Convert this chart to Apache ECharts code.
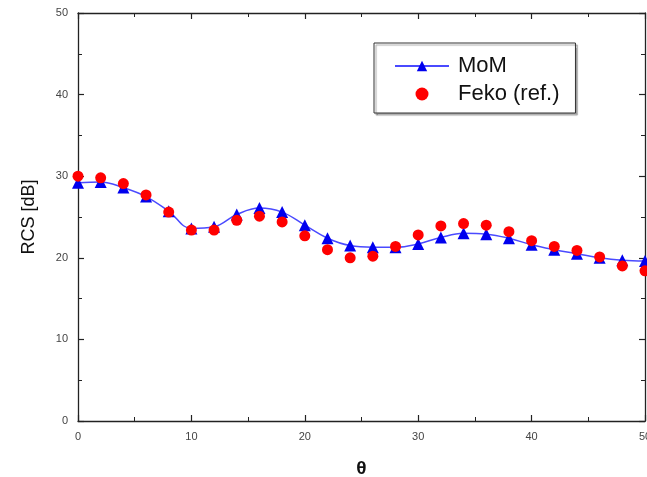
<!DOCTYPE html>
<html>
<head>
<meta charset="utf-8">
<script src="https://cdn.jsdelivr.net/npm/echarts@6/dist/echarts.min.js"></script>
<style>
  html, body { margin: 0; padding: 0; background: #fff; }
  #chart { width: 647px; height: 477px; }
</style>
</head>
<body>
<div id="chart"></div>
<script>
// Observation angles (degrees)
const theta = [0, 2, 4, 6, 8, 10, 12, 14, 16, 18, 20, 22, 24, 26, 28, 30, 32, 34, 36, 38, 40, 42, 44, 46, 48, 50];
// Method-of-moments result (dB)
const momRcs = [29.2, 29.3, 28.6, 27.5, 25.7, 23.6, 23.8, 25.3, 26.1, 25.6, 24.0, 22.4, 21.5, 21.3, 21.3, 21.7, 22.5, 23.0, 22.9, 22.4, 21.6, 21.0, 20.5, 20.0, 19.7, 19.6];
// Feko reference solution (dB)
const fekoRcs = [30.0, 29.8, 29.1, 27.7, 25.6, 23.4, 23.4, 24.6, 25.1, 24.4, 22.7, 21.0, 20.0, 20.2, 21.4, 22.8, 23.9, 24.2, 24.0, 23.2, 22.1, 21.4, 20.9, 20.1, 19.0, 18.4];

const xTicks = { min: 0, max: 50, interval: 10 };
const yTicks = { min: 0, max: 50, interval: 10 };

const FONT = 'Liberation Sans, Arial, sans-serif';
const frame = { lineStyle: { color: '#222', width: 1.3 } };

function axisBase(ticks, showLabels) {
  return {
    type: 'value',
    min: ticks.min, max: ticks.max, interval: ticks.interval,
    axisLine: { show: true, onZero: false, ...frame },
    axisTick: { show: true, inside: true, length: 6, lineStyle: { color: '#222', width: 1.2 } },
    minorTick: { show: true, splitNumber: 2, length: 4, lineStyle: { color: '#222', width: 1 } },
    splitLine: { show: false },
    axisLabel: { show: showLabels, color: '#444', fontSize: 11, fontFamily: FONT, margin: 10 }
  };
}

const chart = echarts.init(document.getElementById('chart'), null, { renderer: 'canvas' });
chart.setOption({
  animation: false,
  backgroundColor: '#fff',
  grid: { left: 78, right: 2, top: 13, bottom: 56, containLabel: false, outerBoundsMode: 'none' },
  xAxis: [
    Object.assign(axisBase(xTicks, true), {
      position: 'bottom',
      name: 'θ', nameLocation: 'middle', nameGap: 38,
      nameTextStyle: { fontSize: 19, fontWeight: 'bold', color: '#111', fontFamily: FONT }
    }),
    Object.assign(axisBase(xTicks, false), { position: 'top' })
  ],
  yAxis: [
    Object.assign(axisBase(yTicks, true), {
      position: 'left',
      name: 'RCS [dB]', nameLocation: 'middle', nameGap: 40, nameRotate: 90,
      nameTextStyle: { fontSize: 18, color: '#111', fontFamily: FONT }
    }),
    Object.assign(axisBase(yTicks, false), { position: 'right' })
  ],
  legend: {
    orient: 'vertical',
    left: 374, top: 43,
    padding: [12, 16, 8, 20],
    itemWidth: 54, itemHeight: 13, itemGap: 6,
    borderColor: '#333', borderWidth: 1,
    shadowColor: 'rgba(0,0,0,0.35)', shadowOffsetX: 2, shadowOffsetY: 2, shadowBlur: 1,
    backgroundColor: '#fff',
    textStyle: { fontSize: 22, color: '#111', fontFamily: FONT, padding: [0, 0, 0, 4] },
    data: ['MoM', 'Feko (ref.)']
  },
  series: [
    {
      name: 'MoM',
      type: 'line',
      xAxisIndex: 0, yAxisIndex: 0,
      data: theta.map((t, i) => [t, momRcs[i]]),
      smooth: 0.4,
      symbol: 'triangle', symbolSize: 12,
      lineStyle: { color: '#4a4aff', width: 1.5 },
      itemStyle: { color: '#0000ee' },
      z: 2
    },
    {
      name: 'Feko (ref.)',
      type: 'scatter',
      xAxisIndex: 0, yAxisIndex: 0,
      data: theta.map((t, i) => [t, fekoRcs[i]]),
      symbol: 'circle', symbolSize: 11,
      itemStyle: { color: '#ff0000', opacity: 1 },
      z: 3
    }
  ]
});
</script>
</body>
</html>
